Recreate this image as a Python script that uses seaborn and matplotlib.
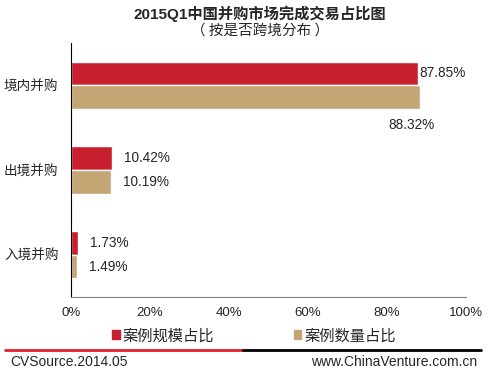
import matplotlib.pyplot as plt
import pandas as pd
import seaborn as sns
from matplotlib.lines import Line2D
from matplotlib.patches import Patch

categories = ['境内并购', '出境并购', '入境并购']
scale_share = [87.85, 10.42, 1.73]
count_share = [88.32, 10.19, 1.49]
series = ['案例规模占比', '案例数量占比']
colors = ['#C8202E', '#C4A574']
x_ticks = [0, 20, 40, 60, 80, 100]

df = pd.DataFrame({
    'cat': categories * 2,
    'value': scale_share + count_share,
    'series': [series[0]] * 3 + [series[1]] * 3,
})

sns.set_style('white')
plt.rcParams['font.family'] = ['Liberation Sans', 'Noto Sans CJK SC']
cjk = ['Noto Sans CJK SC', 'Liberation Sans']

fig = plt.figure(figsize=(4.89, 3.73), dpi=100)
ax = fig.add_axes([71 / 489, 1 - 297 / 373, 395 / 489, 254 / 373])
sns.barplot(data=df, y='cat', x='value', hue='series', order=categories,
            hue_order=series, palette=colors, width=0.56, orient='h',
            saturation=1, legend=False, ax=ax, errorbar=None)

ax.set_xlim(0, 100)
ax.set_ylim(2.5, -0.5)
ax.set_xticks(x_ticks)
ax.set_xticklabels([f'{t}%' for t in x_ticks], fontsize=9.5)
ax.tick_params(axis='y', labelsize=9.8, length=0, pad=9)
ax.tick_params(axis='x', length=0, pad=7)
ax.set_xlabel('')
ax.set_ylabel('')
for s in ['top', 'right']:
    ax.spines[s].set_visible(False)
ax.spines['left'].set_color('black')
ax.spines['bottom'].set_color('#808080')

# value labels
for i, v in enumerate(scale_share):
    ax.text(v + 0.3 if i == 0 else v + 3, i - 0.14, f'{v:.2f}%', va='center', fontsize=9.8)
for i, v in enumerate(count_share):
    if i == 0:
        ax.text(v - 2, i + 0.47, f'{v:.2f}%', va='center', ha='center', fontsize=9.8)
    else:
        ax.text(v + 3, i + 0.14, f'{v:.2f}%', va='center', fontsize=9.8)

fig.text(260 / 489, 1 - 14 / 373, '2015Q1中国并购市场完成交易占比图', ha='center', va='center',
         fontsize=11, fontweight='bold')
fig.text(260 / 489, 1 - 31 / 373, '（ 按是否跨境分布 ）', ha='center', va='center', fontsize=10.5,
         family=cjk)

handles = [Patch(color=c) for c in colors]
fig.legend(handles, series, loc='center', bbox_to_anchor=(254 / 489, 1 - 336 / 373), ncol=2,
           frameon=False, fontsize=11, handlelength=0.5, handleheight=0.5,
           handletextpad=0.2, columnspacing=5.2)

fig.add_artist(Line2D([5 / 489, 243 / 489], [1 - 350 / 373] * 2, color='#E0202A', lw=2))
fig.add_artist(Line2D([243 / 489, 481 / 489], [1 - 350 / 373] * 2, color='black', lw=2))
fig.text(10 / 489, 1 - 362 / 373, 'CVSource.2014.05', va='center', fontsize=10)
fig.text(477 / 489, 1 - 362 / 373, 'www.ChinaVenture.com.cn', va='center', ha='right', fontsize=10)

fig.savefig('out.png', dpi=100)
